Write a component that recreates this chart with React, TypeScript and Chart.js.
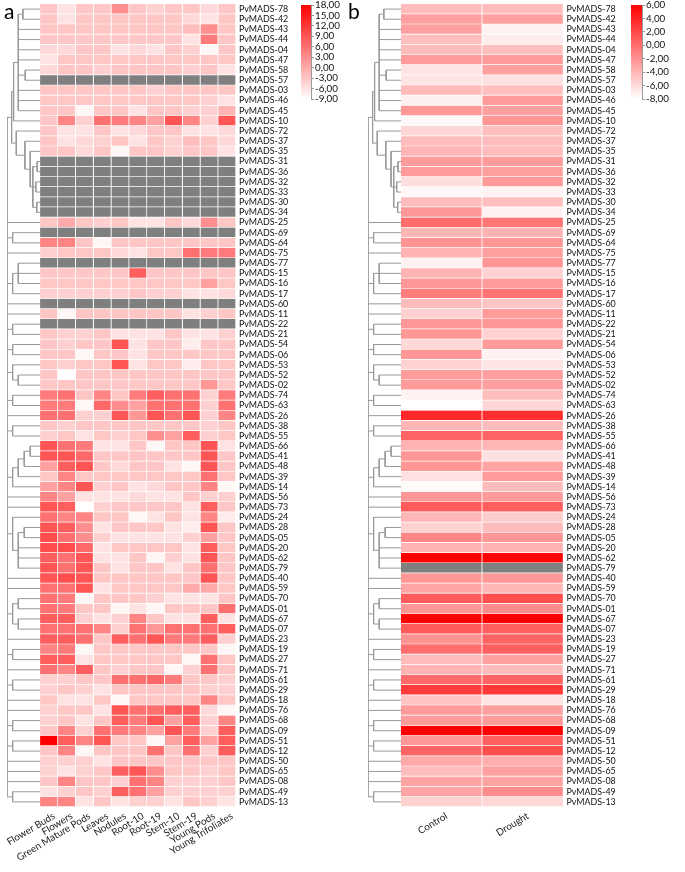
import React, { useEffect, useRef } from 'react';
import { Chart, registerables } from 'chart.js';

Chart.register(...registerables);

// ---------------- data ----------------
const genes = ['78','42','43','44','04','47','58','57','03','46','45','10','72','37','35','31','36','32','33','30','34','25','69','64','75','77','15','16','17','60','11','22','21','54','06','53','52','02','74','63','26','38','55','66','41','48','39','14','56','73','24','28','05','20','62','79','40','59','70','01','67','07','23','19','27','71','61','29','18','76','68','09','51','12','50','65','08','49','13'];

const tissues = ['Flower Buds','Flowers','Green Mature Pods','Leaves','Nodules','Root-10','Root-19','Stem-10','Stem-19','Young Pods','Young Trifoliates'];

const N = null;
const flowerBuds = [-3,-3,-3,-3,-5,-6,-5,N,-3,-3, -3,-3,-3,-3,-3,N,N,N,N,N, N,-3,N,4,-4,N,-3,-3,-4,N, -3,N,-3,-3,-3,-3,-3,-3,5,5, 6,-3,-4,9,9,1,-3,1,4,9, 6,9,10,10,8,9,9,6,6,6, 8,6,8,4,8,6,-4,-4,-3,-4, -4,-3,18,-3,-4,-4,-3,-6,4];
const flowers = [-6,-6,-3,-3,-5,-3,-3,N,-3,-3, -3,4,-6,-6,-3,N,N,N,N,N, N,0,N,4,-3,N,-3,-3,-4,N, -8,N,-4,-4,-3,-4,-9,-3,6,5, 6,-4,-3,6,9,8,4,4,1,8, 4,8,6,10,6,6,10,6,5,5, 8,6,8,5,8,4,-4,-3,-6,-3, -3,4,8,4,-4,-6,4,-4,4];
const greenMaturePods = [-3,-3,-3,-3,-3,-3,-3,N,-3,-3, -8,-4,-6,-5,-5,N,N,N,N,N, N,-3,N,-3,-3,N,-3,-3,-4,N, -3,N,-4,-3,-8,-3,-3,-3,-3,-8, -4,-3,-6,5,7,9,-3,9,-6,-9, 4,3,3,7,9,9,9,9,-8,-3, -4,6,6,-8,-6,8,-3,-4,-6,-3, -6,-4,4,-8,-4,-4,-3,-3,-6];
const leaves = [-3,-3,-3,-3,-3,-3,-4,N,-3,-3, -3,6,-3,-4,-3,N,N,N,N,N, N,-4,N,-8,-3,N,-3,-3,-4,N, -3,N,-3,-3,-3,-3,-3,-3,4,7, -4,-3,-3,-6,-3,-3,-3,-4,-6,-4, -3,-6,-4,-6,-6,-3,-3,-6,-3,-3, -6,4,-3,-3,-3,-3,-3,-6,-3,-6, -3,6,9,-3,-6,-3,-3,-4,-3];
const nodules = [3,-3,-3,-3,-6,-3,-3,N,-3,-3, -3,5,-6,-3,-8,N,N,N,N,N, N,-3,N,-3,-5,N,-3,-3,-4,N, -3,N,-6,9,-3,9,-3,-3,-3,3, 9,-3,-4,-6,-3,-5,-3,-3,-6,-3, -3,-3,-6,-3,-6,-6,-3,-3,-3,-8, -4,-4,8,-3,-3,-4,6,-3,-8,9, 8,5,-3,-3,-3,8,-4,8,-6];
const root10 = [-3,-3,-3,-3,-5,-3,-3,N,-3,-3, -6,4,-5,-6,-3,N,N,N,N,N, N,-6,N,-3,-6,N,8,-3,-3,N, -3,N,-6,-6,-6,-6,-3,-3,5,1, 2,-3,-3,-3,-3,-3,-3,-6,-5,-3, -8,-3,-6,-3,-3,-3,-3,-3,-3,-6, 4,6,6,-3,-3,-3,6,-3,-3,6, 5,4,-3,-3,-3,9,6,6,-4];
const root19 = [-4,-3,-3,-3,-6,-3,-3,N,-4,-3, -3,1,-3,-3,-3,N,N,N,N,N, N,-6,N,-3,-3,N,-3,-3,-4,N, -3,N,-6,-3,-3,-3,-3,-3,8,6, 9,-3,3,-8,-3,-3,-3,-5,-6,-3, -6,-3,-6,-3,-8,-3,-3,-3,-4,-8, -3,2,9,-3,-3,-3,7,-3,-3,6, 9,1,-8,6,-3,3,4,1,-4];
const stem10 = [-3,-3,-3,-3,-3,-3,-3,N,-3,-3, -3,9,-3,-4,-4,N,N,N,N,N, N,-3,N,-3,-3,N,-3,-3,-4,N, -3,N,-3,-3,-3,-3,-3,-3,6,6, 6,-3,1,-3,-3,-6,-3,-3,-6,-3, -3,-6,-6,-3,-4,-6,-3,-3,-6,-3, -6,6,5,-3,-3,-8,5,-3,-3,8, 1,9,1,-3,-3,-3,-4,-4,-6];
const stem19 = [-3,-5,-2,-6,-4,-3,-4,N,-3,-3, -4,4,-6,-2,-3,N,N,N,N,N, N,-5,N,-3,6,N,-3,-3,-6,N, -6,N,-6,-7,-3,-7,-3,-3,6,6, 9,-3,8,-3,-3,-8,-3,-3,-3,-6, -6,-7,-4,-6,-6,-3,-3,0,-6,-3, -6,6,5,-3,-8,-4,-3,-3,-3,8, 8,5,8,6,-3,-3,-4,-4,-3];
const youngPods = [-5,-6,3,5,-8,-3,-3,N,-3,-4, -4,-4,-6,-3,-3,N,N,N,N,N, N,3,N,-3,5,N,-3,1,-6,N, -4,N,-6,-3,-3,-3,-3,2,-4,-4, -4,-4,-4,9,9,9,6,4,-4,8, 4,9,1,8,9,6,9,0,-6,-3, 8,6,8,-3,6,6,-3,-4,4,-5, -4,-4,1,-4,-3,-4,-4,-4,-4];
const youngTrifoliates = [-3,-3,-3,-3,-3,-3,-6,N,-3,-6, -1,9,-5,-5,-6,N,N,N,N,N, N,-3,N,-3,5,N,-3,-3,-5,N, -3,N,-4,-3,-3,-3,-3,-3,5,6, 4,-3,-3,-6,-3,-3,-3,-8,-4,-3, -7,-3,-3,-3,-3,-3,-3,-3,-3,6, -6,8,-4,-8,-3,-3,-4,-4,-3,-8, 4,8,8,8,-3,-3,-3,-4,-6];

const conditions = ['Control', 'Drought'];
const control = [-4.3,-2.8,-2.8,-4.5,-4.3,-2.5,-6.5,-6.5,-4.2,-7.2, -2.3,-7.6,-5.8,-4.3,-4,-2.5,-2.5,-6.2,-7.5,-4.3, -2.3,0,-4,-2,-3.8,-7.3,-3.8,-2.3,-0.8,-4.3, -5.5,-2.3,-2.3,-5.8,-2.3,-5.5,-2.5,-2.5,-7.3,-8, 3.8,-4,0.5,-3.8,-2.3,-2.3,-6.3,-7.7,-2.3,1, -4,-5.5,-1.4,-3.8,6,N,-2.3,-3,1,-2.3, 6,1,-2,0,-4.3,-3.8,0.2,2.7,-4.8,-2.5, -2.5,6,-2.3,0.5,-3.3,-4.3,-3,-3,-5.5];
const drought = [-4.3,-2.8,-7.3,-7,-4.5,-2.5,-2.8,-6.3,-4.5,-2.5, -2.8,-2.3,-4.5,-4.3,-4.3,-2.5,-2.8,-2.5,-7.3,-4.5, -7.3,-0.5,-3.8,-2.3,-2.8,-2.3,-5.5,-2.5,-0.3,-4.8, -2.5,-2.3,-5.5,-2.5,-7.3,-6.5,-2.8,-2.8,-4.3,-5.8, 3.5,-4.3,0.5,-4,-6.3,-3,-2.5,-4.3,-2.5,0.8, -5.2,-4.3,-2.3,-3.8,5.8,N,-2.3,-4,1.7,-1.7, 6,0.8,0.5,0.8,-2.8,-4.3,0.5,3,-6.5,-2.8, -2.5,6,0.8,1.7,-3.5,-2.8,-3,-1.7,-5.8];

const legendTicksA = [18, 15, 12, 9, 6, 3, 0, -3, -6, -9];
const legendTicksB = [6, 4, 2, 0, -2, -4, -6, -8];

// hierarchical clustering tree: [height, ...children], leaves are gene ids
type TreeNode = string | [number, ...TreeNode[]];
const dendrogram: TreeNode = [1.0,
  [0.86,
    [0.8, [0.66, [0.52, '78', '42'], '43', '44', '04', '47', [0.45, '58', '57'], '03', '46', '45'], '10'],
    [0.72, '72', [0.46, '37', [0.3, '35', [0.22, [0.09, '31', '36'], [0.13, '32', '33'], [0.1, '30', '34']]]]]
  ],
  '25',
  [0.83, '69', '64'],
  '75',
  [0.83, [0.66, '77', '15', '16'], '17'],
  '60', '11',
  [0.83, '22', '21'],
  [0.83, '54', '06'],
  [0.83, '53', [0.66, '52', '02']],
  [0.83, '74', '63'],
  '26',
  [0.83, '38', '55'],
  [0.83, [0.66, [0.48, [0.3, '66', '41'], '48'], '39'], '14'],
  '56', '73',
  [0.83, '24', [0.66, [0.48, '28', '05'], '20', '62', '79']],
  '40', '59',
  [0.83, [0.66, '70', '01'], [0.66, '67', '07']],
  '23',
  [0.83, '19', '27'],
  '71',
  [0.83, '61', '29'],
  '18', '76',
  [0.83, '68', '09'],
  [0.83, '51', '12'],
  '50', '65', '08',
  [0.83, '49', '13']
];

// ---------------- helpers ----------------
const FONT = "Lato, 'Liberation Sans', Arial, sans-serif";
const GREY = '#7f7f7f';

function redScale(v: number | null | undefined, lo: number, hi: number): string {
  if (v === null || v === undefined) return GREY;
  const t = Math.max(0, Math.min(1, (v - lo) / (hi - lo)));
  const g = Math.round(255 * (1 - t));
  return `rgb(255,${g},${g})`;
}

const fmt = (v: number) => v.toFixed(2).replace('.', ',');

// font size that makes `text` about `target` pixels wide
function fitFont(text: string, target: number): number {
  const c = document.createElement('canvas').getContext('2d') as CanvasRenderingContext2D;
  c.font = `100px ${FONT}`;
  const w = c.measureText(text).width || 500;
  return Math.round((100 * target / w) * 10) / 10;
}

function dendrogramPoints(tree: TreeNode, span: number) {
  const rowIndex = new Map(genes.map((g, i) => [g, i] as [string, number]));
  const pts: { x: number | null; y: number | null }[] = [];
  const walk = (n: TreeNode): { h: number; y: number } => {
    if (typeof n === 'string') return { h: 0, y: rowIndex.get(n) as number };
    const [h, ...kids] = n;
    const ks = kids.map(walk);
    const ys = ks.map((k) => k.y);
    const y0 = Math.min(...ys);
    const y1 = Math.max(...ys);
    pts.push({ x: -h * span, y: y0 }, { x: -h * span, y: y1 }, { x: null, y: null });
    ks.forEach((k) => pts.push({ x: -h * span, y: k.y }, { x: -k.h * span, y: k.y }, { x: null, y: null }));
    return { h, y: (y0 + y1) / 2 };
  };
  walk(tree);
  return pts;
}

interface HeatOpts {
  columns: string[];
  series: (number | null)[][];
  lo: number;
  hi: number;
  span: number;
  padLeft: number;
  axisWidth: number;
  axisHeight: number;
  lineColor: string;
  rowFont: number;
  colFont: number;
}

function heatmapConfig(o: HeatOpts): any {
  const datasets: any[] = o.columns.map((name, j) => ({
    type: 'bar',
    label: name,
    indexAxis: 'y',
    grouped: false,
    data: genes.map((g, i) => ({ y: i, x: [j, j + 1], v: o.series[j][i] })),
    backgroundColor: (ctx: any) => redScale(ctx.raw ? ctx.raw.v : null, o.lo, o.hi),
    borderColor: o.lineColor,
    borderWidth: { top: 0, left: 0, right: 1, bottom: 1 },
    borderSkipped: false,
    barPercentage: 1,
    categoryPercentage: 1,
  }));
  datasets.push({
    type: 'line',
    label: 'dendrogram',
    data: dendrogramPoints(dendrogram, o.span),
    borderColor: '#999999',
    borderWidth: 1,
    pointRadius: 0,
    spanGaps: false,
    fill: false,
    tension: 0,
  });
  return {
    type: 'bar',
    data: { datasets },
    options: {
      animation: false,
      responsive: false,
      devicePixelRatio: 1,
      events: [],
      layout: { padding: { left: o.padLeft, top: 4, right: 0, bottom: 0 } },
      plugins: { legend: { display: false }, tooltip: { enabled: false } },
      scales: {
        x: {
          type: 'linear',
          offset: false,
          min: -o.span,
          max: o.columns.length,
          grid: { display: false, drawTicks: false, offset: false },
          border: { display: false },
          afterBuildTicks: (s: any) => { s.ticks = o.columns.map((_, j) => ({ value: j + 0.5 })); },
          afterFit: (s: any) => { s.height = o.axisHeight; s.paddingLeft = 0; s.paddingRight = 0; },
          ticks: {
            autoSkip: false,
            minRotation: 31,
            maxRotation: 31,
            padding: 3,
            labelOffset: 5,
            color: '#222',
            font: { family: FONT, size: o.colFont },
            callback: (_v: any, i: number) => o.columns[i],
          },
        },
        y: {
          type: 'linear',
          offset: false,
          position: 'right',
          reverse: true,
          min: -0.5,
          max: genes.length - 0.5,
          grid: { display: false, drawTicks: false, offset: false },
          border: { display: false },
          afterBuildTicks: (s: any) => { s.ticks = genes.map((_, i) => ({ value: i })); },
          afterFit: (s: any) => { s.width = o.axisWidth; s.paddingTop = 0; s.paddingBottom = 0; },
          ticks: {
            autoSkip: false,
            padding: 3,
            color: '#111',
            font: { family: FONT, size: o.rowFont },
            callback: (_v: any, i: number) => 'PvMADS-' + genes[i],
          },
        },
      },
    },
  };
}

function legendConfig(lo: number, hi: number, ticks: number[], fontSize: number): any {
  return {
    type: 'bar',
    data: {
      labels: [''],
      datasets: [{
        data: [[lo, hi]],
        backgroundColor: (ctx: any) => {
          const chart = ctx.chart;
          const ys = chart.scales.y;
          if (!chart.chartArea || !ys) return 'red';
          const g = chart.ctx.createLinearGradient(0, ys.getPixelForValue(hi), 0, ys.getPixelForValue(lo));
          g.addColorStop(0, redScale(hi, lo, hi));
          g.addColorStop(1, redScale(lo, lo, hi));
          return g;
        },
        borderWidth: 0,
        barPercentage: 1,
        categoryPercentage: 1,
      }],
    },
    options: {
      animation: false,
      responsive: false,
      devicePixelRatio: 1,
      events: [],
      layout: { padding: { left: 5, top: 5, right: 0, bottom: 11 } },
      plugins: { legend: { display: false }, tooltip: { enabled: false } },
      scales: {
        x: { display: false },
        y: {
          type: 'linear',
          position: 'right',
          min: lo,
          max: hi,
          afterBuildTicks: (s: any) => { s.ticks = ticks.map((v) => ({ value: v })); },
          afterFit: (s: any) => { s.width = 40; s.paddingTop = 0; s.paddingBottom = 0; },
          grid: { drawOnChartArea: false, drawTicks: true, tickLength: 3, color: '#9a9a9a' },
          border: { display: true, color: '#9a9a9a' },
          ticks: {
            autoSkip: false,
            padding: 1,
            color: '#111',
            font: { family: FONT, size: fontSize },
            callback: (v: number) => fmt(v),
          },
        },
      },
    },
  };
}

export default function App() {
  const aRef = useRef<HTMLCanvasElement>(null);
  const aLegRef = useRef<HTMLCanvasElement>(null);
  const bRef = useRef<HTMLCanvasElement>(null);
  const bLegRef = useRef<HTMLCanvasElement>(null);

  useEffect(() => {
    const rowFont = fitFont('PvMADS-78', 49.5);
    const colFont = fitFont('Green Mature Pods', 84);
    const legFont = fitFont('18,00', 25);
    const charts: Chart[] = [];
    charts.push(new Chart(aRef.current as HTMLCanvasElement, heatmapConfig({
      columns: tissues,
      series: [flowerBuds, flowers, greenMaturePods, leaves, nodules, root10, root19, stem10, stem19, youngPods, youngTrifoliates],
      lo: -9, hi: 18, span: 1.86, padLeft: 7, axisWidth: 64, axisHeight: 65, lineColor: '#ffffff',
      rowFont, colFont,
    })));
    charts.push(new Chart(aLegRef.current as HTMLCanvasElement, legendConfig(-9, 18, legendTicksA, legFont)));
    charts.push(new Chart(bRef.current as HTMLCanvasElement, heatmapConfig({
      columns: conditions,
      series: [control, drought],
      lo: -8, hi: 6, span: 0.406, padLeft: 28, axisWidth: 76.5, axisHeight: 65, lineColor: 'rgba(255,255,255,0.85)',
      rowFont, colFont,
    })));
    charts.push(new Chart(bLegRef.current as HTMLCanvasElement, legendConfig(-8, 6, legendTicksB, legFont)));
    return () => charts.forEach((c) => c.destroy());
  }, []);

  const abs = (left: number, top: number, w: number, h: number): React.CSSProperties => ({
    position: 'absolute', left, top, width: w, height: h,
  });
  const panelLabel: React.CSSProperties = {
    position: 'absolute', fontFamily: "Lato, 'Liberation Sans', Arial, sans-serif", fontSize: 21, lineHeight: '21px', color: '#000',
  };

  return (
    <div style={{ position: 'absolute', left: 0, top: 0, width: 685, height: 872, background: '#fff', overflow: 'hidden' }}>
      <canvas ref={aRef} width={300} height={872} style={abs(0, 0, 300, 872)} />
      <canvas ref={aLegRef} width={55} height={110} style={abs(296, 0, 55, 110)} />
      <canvas ref={bRef} width={300} height={872} style={abs(340, 0, 300, 872)} />
      <canvas ref={bLegRef} width={56} height={110} style={abs(626, 0, 56, 110)} />
      <div style={{ ...panelLabel, left: 4, top: 0 }}>a</div>
      <div style={{ ...panelLabel, left: 348, top: 0 }}>b</div>
    </div>
  );
}
